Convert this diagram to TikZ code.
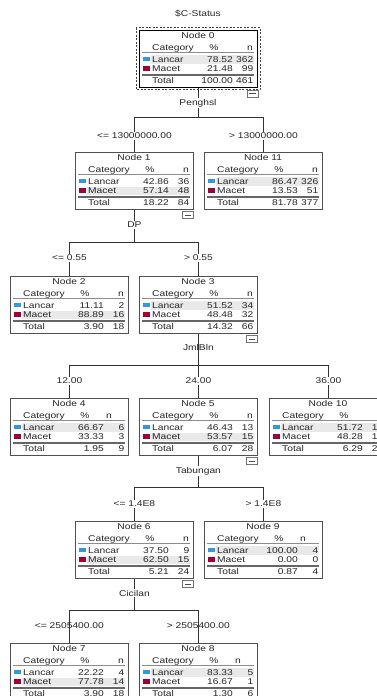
\documentclass[tikz,border=0pt]{standalone}
\usepackage{fontspec}
\newfontfamily\spssfam[FakeStretch=1.22]{Liberation Sans}
\newcommand\spss{\spssfam\fontsize{8.4}{9}\selectfont}
\definecolor{lancar}{RGB}{52,152,219}
\definecolor{macet}{RGB}{160,0,55}
\definecolor{rowshade}{RGB}{233,233,233}
\definecolor{boxline}{RGB}{80,80,80}
\tikzset{
  tbox/.style={draw=boxline, line width=0.8pt, minimum width=118pt, minimum height=57pt, anchor=north west, inner sep=0pt},
  txt/.style={font=\spss, inner sep=0pt, text=black!85},
  lbl/.style={font=\spss, inner sep=1.2pt, fill=white, text=black!85},
  lblo/.style={font=\spss, inner sep=1.2pt, text=black!85},
  sep/.style={draw=black!45, line width=0.6pt},
  septhick/.style={draw=black!60, line width=1.4pt},
  conn/.style={draw=black!80, line width=0.8pt},
  collapsebox/.style={draw=black!55, fill=white, line width=0.6pt, minimum width=11pt, minimum height=7pt, inner sep=0pt, anchor=north east}
}
% [n header x]{title}{lancar %}{lancar n}{macet %}{macet n}{total %}{total n}{shaded row}
\newcommand\tcontent[9][111]{%
\begin{scope}[shift={(n#2.north west)}]
\ifnum#9=1 \fill[rowshade] (12,25.3) rectangle (115,33.5);\else\fill[rowshade] (12,34.6) rectangle (115,43);\fi
\node[txt,anchor=base] (n#2-title) at (59,8.9) {Node #2};
\node[txt,anchor=base west] (n#2-hc) at (13,20.8) {Category};
\node[txt,anchor=base] (n#2-hp) at (75,20.8) {\%};
\node[txt,anchor=base] (n#2-hn) at (#1,20.8) {n};
\draw[sep] (3,22.6) -- (115,22.6);
\fill[lancar] (4,26.7) rectangle (10.5,31.3);
\fill[macet] (4,36.3) rectangle (10.5,41.3);
\node[txt,anchor=base west] (n#2-l) at (13,32) {Lancar};
\node[txt,anchor=base east] (n#2-lp) at (94,32) {#3};
\node[txt,anchor=base east] (n#2-ln) at (114.5,32) {#4};
\node[txt,anchor=base west] (n#2-m) at (13,41.8) {Macet};
\node[txt,anchor=base east] (n#2-mp) at (94,41.8) {#5};
\node[txt,anchor=base east] (n#2-mn) at (114.5,41.8) {#6};
\draw[septhick] (3,44.8) -- (115,44.8);
\node[txt,anchor=base west] (n#2-t) at (13,53.5) {Total};
\node[txt,anchor=base east] (n#2-tp) at (94,53.5) {#7};
\node[txt,anchor=base east] (n#2-tn) at (114.5,53.5) {#8};
\end{scope}}
\newcommand\collapse[1]{%
\node[collapsebox] (#1-c) at ([yshift=-1.5pt]#1.south east) {};
\draw[black!70, line width=0.7pt] ([xshift=2.5pt]#1-c.west) -- ([xshift=-2.5pt]#1-c.east);}

\begin{document}
\begin{tikzpicture}[x=1pt,y=-1pt]
\useasboundingbox (0,0) rectangle (377,696);
\fill[white] (0,0) rectangle (377,696);
\begin{scope}
\clip (0,0) rectangle (377,696);

% bars
\coordinate (b0) at (0,117);
\coordinate (b1) at (0,242);
\coordinate (b3) at (0,365);
\coordinate (b5) at (0,487);
\coordinate (b6) at (0,610);

% boxes
\draw[black!75, line width=0.8pt, dash pattern=on 2pt off 1.5pt] (136,27.5) rectangle (260,89.5);
\node[tbox, draw=black, line width=1.3pt] (n0) at (139,30) {};
\node[tbox] (n1) at (75,152) {};
\node[tbox] (n11) at (204,152) {};
\node[tbox] (n2) at (10,276) {};
\node[tbox] (n3) at (139,276) {};
\node[tbox] (n4) at (10,398) {};
\node[tbox] (n5) at (139,398) {};
\node[tbox] (n10) at (269,398) {};
\node[tbox] (n6) at (75,521) {};
\node[tbox] (n9) at (204,521) {};
\node[tbox] (n7) at (10,643) {};
\node[tbox] (n8) at (139,643) {};

% connectors
\draw[conn] (n0.south) -- (n0.south |- b0);
\draw[conn] (n1.north) -- (n1.north |- b0) -- (n11.north |- b0) -- (n11.north);
\draw[conn] (n1.south) -- (n1.south |- b1);
\draw[conn] (n2.north) -- (n2.north |- b1) -- (n3.north |- b1) -- (n3.north);
\draw[conn] (n3.south) -- (n3.south |- b3);
\draw[conn] (n4.north) -- (n4.north |- b3) -- (n10.north |- b3) -- (n10.north);
\draw[conn] (n5.north) -- (n5.north |- b3);
\draw[conn] (n5.south) -- (n5.south |- b5);
\draw[conn] (n6.north) -- (n6.north |- b5) -- (n9.north |- b5) -- (n9.north);
\draw[conn] (n6.south) -- (n6.south |- b6);
\draw[conn] (n7.north) -- (n7.north |- b6) -- (n8.north |- b6) -- (n8.north);

% contents
\tcontent{0}{78.52}{362}{21.48}{99}{100.00}{461}{1}
\tcontent{1}{42.86}{36}{57.14}{48}{18.22}{84}{2}
\tcontent{11}{86.47}{326}{13.53}{51}{81.78}{377}{1}
\tcontent{2}{11.11}{2}{88.89}{16}{3.90}{18}{2}
\tcontent{3}{51.52}{34}{48.48}{32}{14.32}{66}{1}
\tcontent[99]{4}{66.67}{6}{33.33}{3}{1.95}{9}{1}
\tcontent{5}{46.43}{13}{53.57}{15}{6.07}{28}{2}
\tcontent{10}{51.72}{15}{48.28}{14}{6.29}{29}{1}
\tcontent{6}{37.50}{9}{62.50}{15}{5.21}{24}{2}
\tcontent[99]{9}{100.00}{4}{0.00}{0}{0.87}{4}{1}
\tcontent{7}{22.22}{4}{77.78}{14}{3.90}{18}{2}
\tcontent[99]{8}{83.33}{5}{16.67}{1}{1.30}{6}{1}

% collapse icons
\collapse{n0}
\collapse{n1}
\collapse{n3}
\collapse{n5}
\collapse{n6}

% labels
\node[lblo] (title) at (198,14) {\$C-Status};
\node[lbl] (v0) at (198,103) {Penghsl};
\node[lbl] (e1) at (n1.north |- 0,136) {<= 13000000.00};
\node[lbl] (e11) at (n11.north |- 0,136) {> 13000000.00};
\node[lbl] (v1) at (n1.south |- 0,225) {DP};
\node[lbl] (e2) at (n2.north |- 0,258) {<= 0.55};
\node[lbl] (e3) at (n3.north |- 0,258) {> 0.55};
\node[lblo] (v3) at (n3.south |- 0,347) {JmlBln};
\node[lbl] (e4) at (n4.north |- 0,381) {12.00};
\node[lbl] (e5) at (n5.north |- 0,381) {24.00};
\node[lbl] (e10) at (n10.north |- 0,381) {36.00};
\node[lbl] (v5) at (n5.south |- 0,471) {Tabungan};
\node[lbl] (e6) at (n6.north |- 0,504) {<= 1.4E8};
\node[lbl] (e9) at (n9.north |- 0,504) {> 1.4E8};
\node[lbl] (v6) at (n6.south |- 0,593) {Cicilan};
\node[lblo] (e7) at (n7.north |- 0,626) {<= 2505400.00};
\node[lblo] (e8) at (n8.north |- 0,626) {> 2505400.00};
\end{scope}
\end{tikzpicture}
\end{document}
